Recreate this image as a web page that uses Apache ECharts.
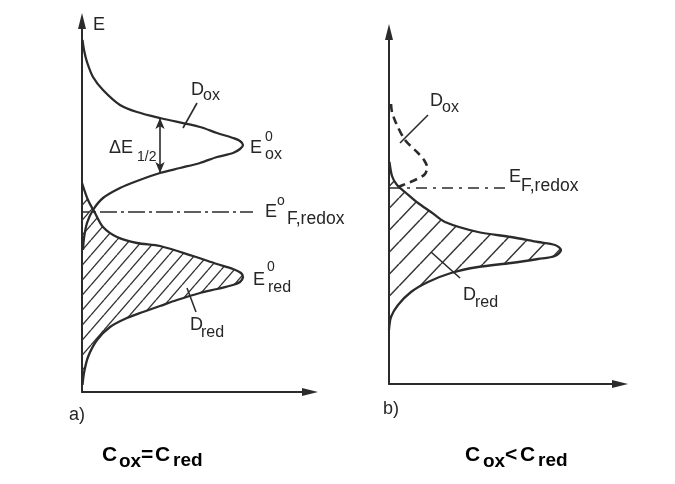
<!DOCTYPE html>
<html>
<head>
<meta charset="utf-8">
<script src="https://cdn.jsdelivr.net/npm/echarts@6/dist/echarts.min.js"></script>
<style>
  html, body { margin: 0; padding: 0; background: #ffffff; }
  #chart { width: 675px; height: 484px; }
</style>
</head>
<body>
<div id="chart"></div>
<script>
// Gerischer picture of a redox electrolyte: density of states D (horizontal)
// against electron energy E (vertical), in arbitrary units.

// ---- a) C_ox = C_red ----
const oxCurveA = [[0.5,352],[2,342],[5,330],[11,315],[21,302],[38,287],[55,280],[78,274],[118,265],[135,259],[151,254],[158,251],[161,247],[158,243],[151,239],[135,235],[118,229],[98,224],[78,219],[55,211],[38,204],[21,194],[11,182],[5,169],[2,154],[1,142]];
const redCurveA = [[0,209],[6,192],[13,179],[21,165],[35,155],[55,149],[78,146],[111,136],[135,128],[151,123],[159,119],[161,115],[158,110],[151,107],[135,103],[118,99],[95,92],[78,86],[61,80],[45,74],[28,65],[15,52],[6,35],[2,19],[0.5,7]];
const fermiA = 180;                 // E°F,redox
const fermiSpanA = [-10, 171];      // D range covered by the dash-dot level
const halfWidthA = { d: 78, eHigh: 274, eLow: 219 };  // ΔE1/2 marker

// ---- b) C_ox < C_red ----
const oxCurveB = [[2,280],[3,272],[7,261],[16,244],[29,231],[35,224],[38,217],[36,210],[26,204],[14,199],[7,196]];
const redCurveB = [[0.5,222],[3,208],[8,199],[16,192],[29,181],[42,172],[56,162],[89,152],[122,147],[149,142],[166,139],[172,134],[166,128],[149,125],[122,121],[89,117],[62,111],[39,102],[22,92],[9,79],[2,67],[0,54]];
const fermiB = 196;                 // EF,redox
const fermiSpanB = [1, 119];

// axis extents
const extentA = { d: 228, e: 371 };
const extentB = { d: 231, e: 352 };

const ink = '#2b2b2b';
const fontFamily = "'Liberation Sans', Arial, sans-serif";

// diagonal hatching tile used to fill the occupied (reduced) states
function hatchTile(w, h, lw) {
  const c = document.createElement('canvas');
  c.width = w; c.height = h;
  const g = c.getContext('2d');
  g.strokeStyle = '#333';
  g.lineWidth = lw;
  [-w, 0, w].forEach(function (o) {
    g.beginPath();
    g.moveTo(o, h);
    g.lineTo(o + w, 0);
    g.stroke();
  });
  return c;
}
const tileA = hatchTile(13, 15, 1.3);
const tileB = hatchTile(21, 22, 1.5);

function hatchedRegion(points, tile) {
  return function (params, api) {
    const first = points[0], last = points[points.length - 1];
    // close the region along the energy axis
    const closing = [];
    for (let k = 1; k < 8; k++) {
      closing.push([0, last[1] + (first[1] - last[1]) * k / 8]);
    }
    const curve = points.map(function (p) { return api.coord(p); });
    const region = points.concat([[0, last[1]]], closing, [[0, first[1]]]).map(function (p) { return api.coord(p); });
    return {
      type: 'group',
      children: [
        { type: 'polygon', shape: { points: region, smooth: 0.3 }, style: { fill: { image: tile, repeat: 'repeat' }, stroke: null } },
        { type: 'polyline', shape: { points: curve, smooth: 0.3 }, style: { fill: null, stroke: ink, lineWidth: 2.3 } }
      ]
    };
  };
}

function makeAxis(gridIndex, max) {
  return {
    type: 'value', gridIndex: gridIndex, min: 0, max: max,
    axisLine: { show: true, onZero: true, symbol: ['none', 'triangle'], symbolSize: [8, 16], lineStyle: { color: ink, width: 2 } },
    axisTick: { show: false }, axisLabel: { show: false }, splitLine: { show: false }
  };
}

function txt(text, x, cy, size, weight, color) {
  return {
    type: 'text', x: x, y: cy, silent: true,
    style: { text: text, fontSize: size, fontFamily: fontFamily, fontWeight: weight || 'normal', fill: color || '#262626', align: 'left', verticalAlign: 'middle' }
  };
}
function lead(x1, y1, x2, y2) {
  return { type: 'line', silent: true, shape: { x1: x1, y1: y1, x2: x2, y2: y2 }, style: { stroke: ink, lineWidth: 1.6 } };
}

const chart = echarts.init(document.getElementById('chart'));
chart.setOption({
  animation: false,
  grid: [
    { left: 82, top: 21, width: extentA.d, height: extentA.e },
    { left: 389, top: 32, width: extentB.d, height: extentB.e }
  ],
  xAxis: [makeAxis(0, extentA.d), makeAxis(1, extentB.d)],
  yAxis: [makeAxis(0, extentA.e), makeAxis(1, extentB.e)],
  series: [
    { type: 'custom', xAxisIndex: 0, yAxisIndex: 0, data: [[0, 0]], renderItem: hatchedRegion(redCurveA, tileA), silent: true, z: 2 },
    {
      type: 'line', xAxisIndex: 0, yAxisIndex: 0, data: oxCurveA, smooth: 0.3, showSymbol: false, silent: true, z: 3,
      lineStyle: { color: ink, width: 2.3 },
      markLine: {
        silent: true, symbol: ['arrow', 'arrow'], symbolSize: [7, 11], label: { show: false },
        lineStyle: { color: ink, width: 1.6, type: 'solid' },
        data: [[{ coord: [halfWidthA.d, halfWidthA.eHigh] }, { coord: [halfWidthA.d, halfWidthA.eLow] }]]
      }
    },
    {
      type: 'line', xAxisIndex: 0, yAxisIndex: 0, data: [[fermiSpanA[0], fermiA], [fermiSpanA[1], fermiA]],
      showSymbol: false, silent: true, clip: false, z: 4, lineStyle: { color: ink, width: 1.6, type: [17, 4, 3, 4] }
    },
    { type: 'custom', xAxisIndex: 1, yAxisIndex: 1, data: [[0, 0]], renderItem: hatchedRegion(redCurveB, tileB), silent: true, z: 2 },
    {
      type: 'line', xAxisIndex: 1, yAxisIndex: 1, data: oxCurveB, smooth: 0.3, showSymbol: false, silent: true, z: 3,
      lineStyle: { color: ink, width: 2.6, type: [8, 5] }
    },
    {
      type: 'line', xAxisIndex: 1, yAxisIndex: 1, data: [[fermiSpanB[0], fermiB], [fermiSpanB[1], fermiB]],
      showSymbol: false, silent: true, clip: false, z: 4, lineStyle: { color: ink, width: 1.6, type: [11, 6, 3, 6] }
    }
  ],
  graphic: [
    // panel a
    txt('E', 93, 25, 18),
    txt('D', 191, 90, 18), txt('ox', 203, 96, 16), lead(197, 103, 183, 128),
    txt('ΔE', 109, 148, 18), txt('1/2', 137, 157, 14),
    txt('E', 250, 148, 18), txt('0', 265, 137, 14), txt('ox', 265, 155, 16),
    txt('E', 265, 212, 18), txt('o', 277, 201, 14), txt('F,redox', 287, 219, 17.5),
    txt('E', 253, 280, 18), txt('0', 267, 267, 14), txt('red', 268, 288, 16),
    txt('D', 190, 325, 18), txt('red', 201, 333, 16), lead(196, 312, 187, 288),
    txt('a)', 69, 415, 18),
    // panel b
    txt('D', 430, 101, 18), txt('ox', 442, 108, 16), lead(428, 115, 400, 143),
    txt('E', 509, 177, 18), txt('F,redox', 521, 186, 17.5),
    txt('D', 463, 295, 18), txt('red', 475, 303, 16), lead(431, 252, 460, 278),
    txt('b)', 383, 409, 18),
    // concentration captions
    txt('C', 102, 455, 21, 'bold', '#000'), txt('ox', 119, 462, 19, 'bold', '#000'), txt('=', 141, 455, 21, 'bold', '#000'),
    txt('C', 155, 455, 21, 'bold', '#000'), txt('red', 173, 461, 19, 'bold', '#000'),
    txt('C', 465, 455, 21, 'bold', '#000'), txt('ox', 483, 462, 19, 'bold', '#000'), txt('<', 505, 455, 21, 'bold', '#000'),
    txt('C', 520, 455, 21, 'bold', '#000'), txt('red', 538, 461, 19, 'bold', '#000')
  ]
});
</script>
</body>
</html>
